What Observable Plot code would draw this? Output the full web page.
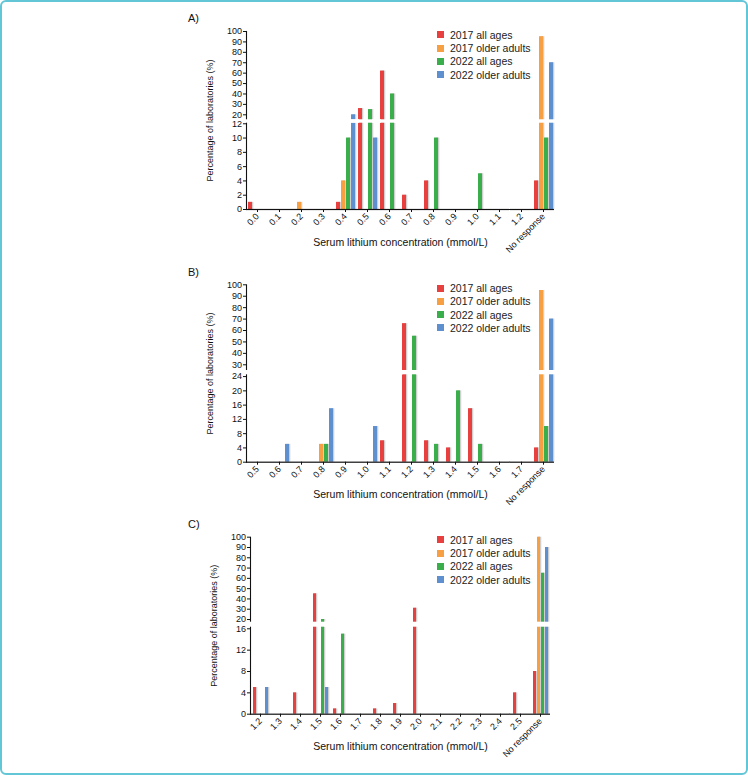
<!DOCTYPE html>
<html><head><meta charset="utf-8">
<script src="https://cdn.jsdelivr.net/npm/d3@7"></script>
<script src="https://cdn.jsdelivr.net/npm/@observablehq/plot@0.6"></script>
<style>
body{margin:0;background:#fff;font-family:"Liberation Sans",Arial,sans-serif;}
#frame{position:absolute;left:0;top:0;width:748px;height:775px;box-sizing:border-box;border:2.5px solid #62c6d6;border-radius:6px;}
.panel{position:absolute;left:0;width:748px;height:253px;}
.panel svg{display:block;overflow:visible;}
.plabel{position:absolute;left:188px;font-size:11px;line-height:11px;color:#111;}
.legend{position:absolute;left:437px;font-size:10.5px;color:#222;}
.legend div{height:13.2px;display:flex;align-items:center;white-space:nowrap;}
.legend .sw{width:7px;height:7px;display:inline-block;margin-right:6px;}
g[aria-label="fx-axis label"] text{font-size:10.5px;}
</style></head><body>
<div id="frame"></div>
<div id="root"></div>
<script>
// Series and colours
const series = ["2017 all ages", "2017 older adults", "2022 all ages", "2022 older adults"];
const colors = ["#e8403f", "#f7a043", "#39ae4a", "#5e8fcf"];

// Panel A
const catsA = ["0.0","0.1","0.2","0.3","0.4","0.5","0.6","0.7","0.8","0.9","1.0","1.1","1.2","No response"];
const a2017All   = [1,0,0,0,1,26,62,2,4,0,0,0,0,4];
const a2017Older = [0,0,1,0,4,0,0,0,0,0,0,0,0,95];
const a2022All   = [0,0,0,0,10,25,40,0,10,0,5,0,0,10];
const a2022Older = [0,0,0,0,20,10,0,0,0,0,0,0,0,70];
const ticksA = [0,2,4,6,8,10,12,20,30,40,50,60,70,80,90,100];

// Panel B
const catsB = ["0.5","0.6","0.7","0.8","0.9","1.0","1.1","1.2","1.3","1.4","1.5","1.6","1.7","No response"];
const b2017All   = [0,0,0,0,0,0,6,66,6,4,15,0,0,4];
const b2017Older = [0,0,0,5,0,0,0,0,0,0,0,0,0,95];
const b2022All   = [0,0,0,5,0,0,0,55,5,20,5,0,0,10];
const b2022Older = [0,5,0,15,0,10,0,0,0,0,0,0,0,70];
const ticksB = [0,4,8,12,16,20,24,30,40,50,60,70,80,90,100];

// Panel C
const catsC = ["1.2","1.3","1.4","1.5","1.6","1.7","1.8","1.9","2.0","2.1","2.2","2.3","2.4","2.5","No response"];
const c2017All   = [5,0,4,45,1,0,1,2,31,0,0,0,0,4,8];
const c2017Older = [0,0,0,0,0,0,0,0,0,0,0,0,0,0,100];
const c2022All   = [0,0,0,20,15,0,0,0,0,0,0,0,0,0,65];
const c2022Older = [5,0,0,5,0,0,0,0,0,0,0,0,0,0,90];
const ticksC = [0,4,8,12,16,20,30,40,50,60,70,80,90,100];

const yTitle = "Percentage of laboratories (%)";
const xTitle = "Serum lithium concentration (mmol/L)";

// Broken-axis configuration: lower segment [0, lowMax], upper [highMin, 100]
const panels = [
  {label: "A)", cats: catsA, vals: [a2017All, a2017Older, a2022All, a2022Older], ticks: ticksA,
   top: 0, brk: {lowMax: 12.08, highMin: 15.2, max: 100, lowPx: 86.3, gapPx: 3.4, highPx: 88.3},
   mt: 31, mb: 44, mr: 192.6, labelTop: 13, legendTop: 28.4},
  {label: "B)", cats: catsB, vals: [b2017All, b2017Older, b2022All, b2022Older], ticks: ticksB,
   top: 253, brk: {lowMax: 24.5, highMin: 25, max: 100, lowPx: 87.4, gapPx: 4.3, highPx: 85.7},
   mt: 31.3, mb: 44.3, mr: 192.6, labelTop: 266.5, legendTop: 281.7},
  {label: "C)", cats: catsC, vals: [c2017All, c2017Older, c2022All, c2022Older], ticks: ticksC,
   top: 506, brk: {lowMax: 16.3, highMin: 17.4, max: 100, lowPx: 87, gapPx: 5, highPx: 85},
   mt: 30.7, mb: 45.3, mr: 194, labelTop: 519, legendTop: 533.4}
];

function brokenTransform(b) {
  return (v) => v <= b.lowMax ? v / b.lowMax * b.lowPx
    : v >= b.highMin ? b.lowPx + b.gapPx + (v - b.highMin) / (b.max - b.highMin) * b.highPx
    : b.lowPx + (v - b.lowMax) / (b.highMin - b.lowMax) * b.gapPx;
}

const root = document.getElementById("root");

for (const p of panels) {
  const rows = p.cats.flatMap((c, i) => series.map((s, j) => ({cat: c, series: s, value: p.vals[j][i]})));
  const b = p.brk;
  const gap = [{lo: b.lowMax, hi: b.highMin}];
  const chart = Plot.plot({
    width: 748, height: 253,
    marginLeft: 245, marginRight: p.mr, marginTop: p.mt, marginBottom: p.mb,
    style: {fontFamily: '"Liberation Sans", Arial, sans-serif', fontSize: "9px", color: "#111", background: "transparent", overflow: "visible"},
    fx: {domain: p.cats, padding: 0},
    x: {domain: series, paddingInner: 0.3, paddingOuter: 0.35, axis: null},
    y: {transform: brokenTransform(b), domain: [0, b.lowPx + b.gapPx + b.highPx], axis: null},
    color: {domain: series, range: colors},
    marks: [
      Plot.frame({anchor: "left", facetAnchor: "left", stroke: "#111", strokeWidth: 1.1}),
      Plot.barY(rows, {fx: "cat", x: "series", y: "value", fill: "#cfcfcf", dx: 1.3}),
      Plot.barY(rows, {fx: "cat", x: "series", y: "value", fill: "series"}),
      Plot.rect(gap, {y1: "lo", y2: "hi", fill: "white", insetLeft: -6, insetRight: -3}),
      Plot.ruleY([0], {stroke: "#111", strokeWidth: 1.2}),
      Plot.axisY(p.ticks, {tickSize: 3, tickPadding: 1.5, fontSize: 9,
        label: yTitle, labelAnchor: "center", labelOffset: 40, labelArrow: "none"}),
      Plot.axisFx({anchor: "bottom", tickSize: 3, tickPadding: 2.5, tickRotate: -45, fontSize: 9,
        label: xTitle, labelAnchor: "center", labelOffset: 36, labelArrow: "none"})
    ]
  });
  const holder = document.createElement("div");
  holder.className = "panel";
  holder.style.top = p.top + "px";
  holder.appendChild(chart);
  root.appendChild(holder);

  const lab = document.createElement("div");
  lab.className = "plabel";
  lab.style.top = p.labelTop + "px";
  lab.textContent = p.label;
  root.appendChild(lab);

  const leg = document.createElement("div");
  leg.className = "legend";
  leg.style.top = p.legendTop + "px";
  series.forEach((s, j) => {
    const row = document.createElement("div");
    const sw = document.createElement("span");
    sw.className = "sw";
    sw.style.background = colors[j];
    row.appendChild(sw);
    row.appendChild(document.createTextNode(s));
    leg.appendChild(row);
  });
  root.appendChild(leg);
}
</script>
</body></html>
